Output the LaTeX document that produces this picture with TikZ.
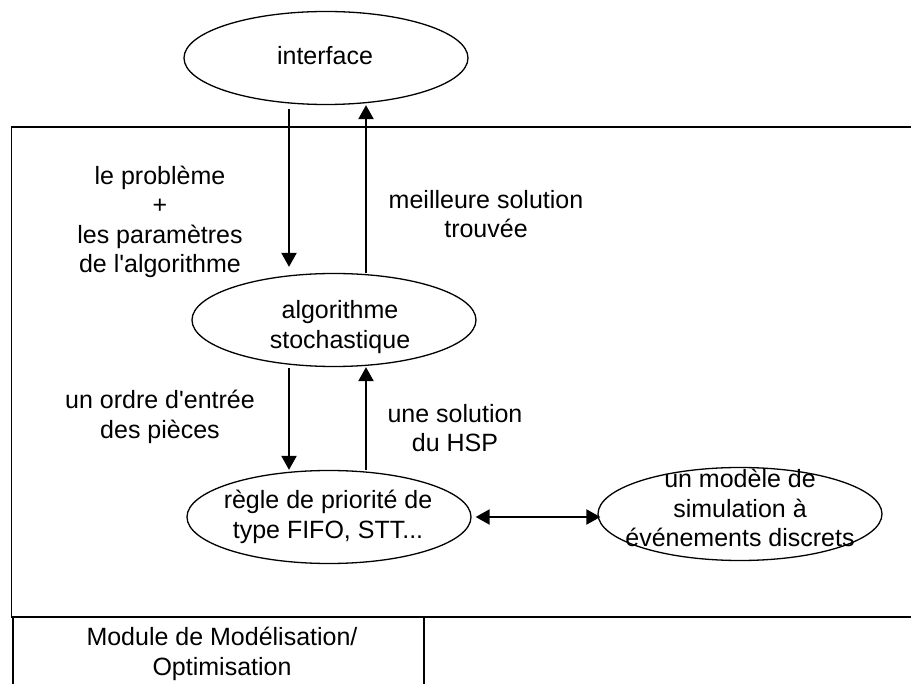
\documentclass[tikz,border=0pt]{standalone}
\usepackage{fontspec}
\setmainfont{Liberation Sans}
\usetikzlibrary{shapes.geometric,arrows.meta}

\begin{document}
\begin{tikzpicture}[x=1pt, y=-1pt,
  font=\fontsize{25}{29.5}\selectfont,
  oval/.style={draw, ellipse, line width=1.3pt, minimum width=284pt, minimum height=93pt, inner sep=0pt},
  txt/.style={align=center, inner sep=0pt},
  flow/.style={line width=2.3pt, -{Triangle[length=14pt,width=15pt]}},
  twoway/.style={line width=2.3pt, {Triangle[length=14pt,width=15pt]}-{Triangle[length=14pt,width=15pt]}}]
  \useasboundingbox (0,0) rectangle (911,684);
  % Module frame
  \draw[line width=1.3pt] (911,127) -- (11.5,127) -- (11.5,617) -- (911,617);
  \draw[line width=1.3pt] (13,617) -- (13,684);
  \draw[line width=1.3pt] (424,617) -- (424,684);
  \node[txt] (module) at (222,654) {Module de Modélisation/\\Optimisation};
  % Ellipses
  \node[oval] (iface) at (326,58) {};
  \node[oval] (algo) at (334,320) {};
  \node[oval] (rule) at (329,517) {};
  \node[oval] (sim) at (740,514) {};
  \node[anchor=base, inner sep=0pt] (ifacetxt) at (325,65) {interface};
  \node[txt] (algotxt) at (340,327) {algorithme\\stochastique};
  \node[txt] (ruletxt) at (328,517) {règle de priorité de\\type FIFO, STT...};
  \node[txt] (simtxt) at (740,508) {un modèle de\\simulation à\\événements discrets};
  % Columns of the arrows
  \coordinate (dn) at (289,0);
  \coordinate (upc) at (366,0);
  \draw[flow, shorten <=4pt, shorten >=6pt] (iface.south -| dn) -- (algo.north -| dn);
  \draw[flow] (algo.north -| upc) -- (iface.south -| upc);
  \draw[flow, shorten <=1pt] (algo.south -| dn) -- (rule.north -| dn);
  \draw[flow] (rule.north -| upc) -- (algo.south -| upc);
  \draw[twoway, shorten <=4pt, shorten >=-3pt] (rule.east) -- (rule.east -| sim.west);
  % Labels
  \node[txt] (pbtxt) at (160,222) {le problème\\+\\les paramètres\\de l\textquotesingle algorithme};
  \node[txt] (besttxt) at (486,214) {meilleure solution\\trouvée};
  \node[txt] (ordertxt) at (160,417) {un ordre d\textquotesingle entrée\\des pièces};
  \node[txt] (soltxt) at (455,428) {une solution\\du HSP};
\end{tikzpicture}
\end{document}
